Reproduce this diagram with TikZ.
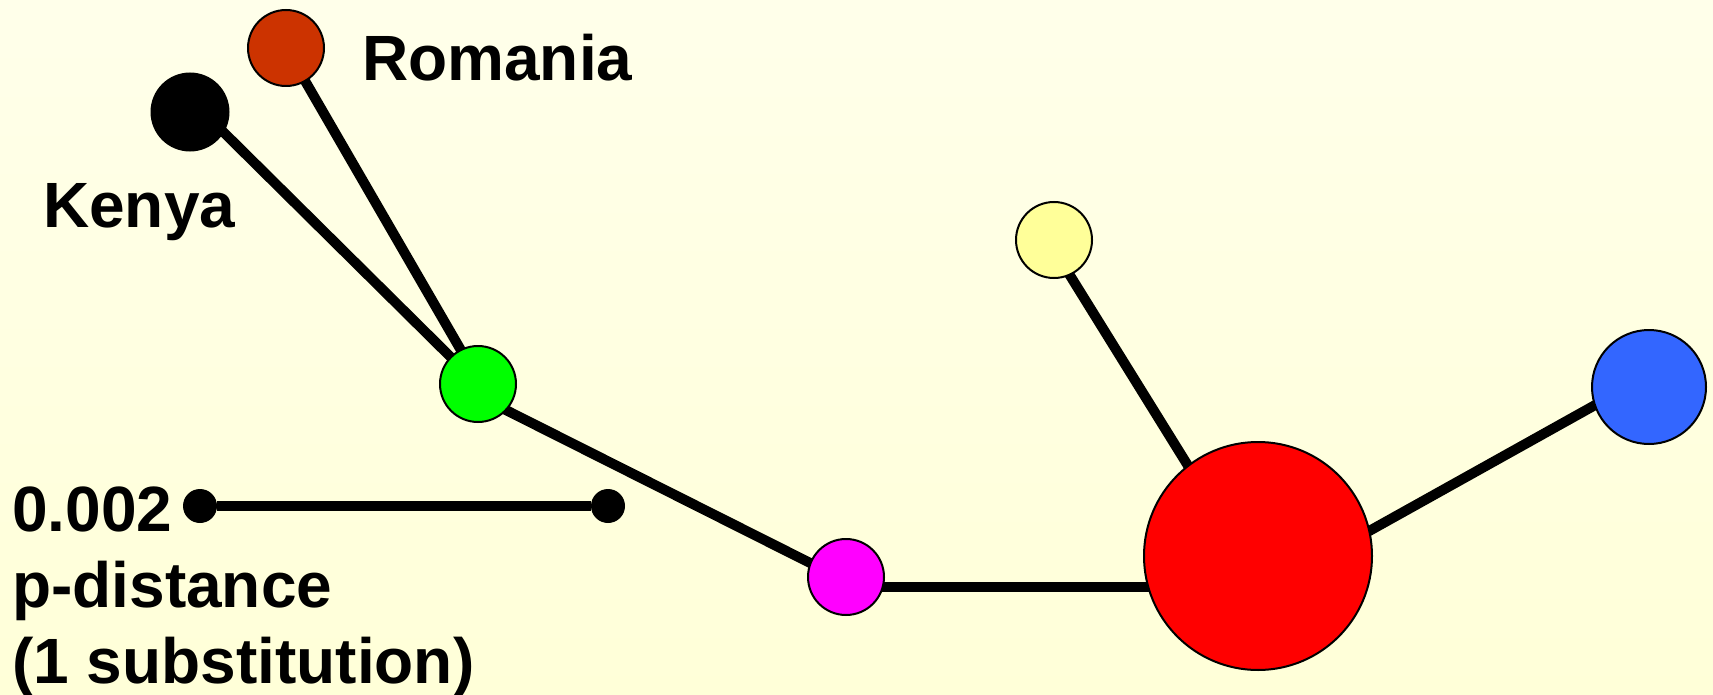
\documentclass[tikz,border=0pt]{standalone}
\usepackage{fontspec}
\setmainfont{Liberation Sans}
\usetikzlibrary{calc,backgrounds}
\pgfdeclarelayer{bg}
\pgfsetlayers{bg,background,main}
\definecolor{bgtop}{HTML}{FFFFEA}
\definecolor{bgmid}{HTML}{FFFFF6}
\definecolor{bgbot}{HTML}{FFFFD8}
\definecolor{romcol}{HTML}{CC3300}
\definecolor{grncol}{HTML}{00FF00}
\definecolor{yelcol}{HTML}{FFFF99}
\definecolor{blucol}{HTML}{3366FF}
\definecolor{redcol}{HTML}{FF0000}
\definecolor{magcol}{HTML}{FF00FF}
\begin{document}
\begin{tikzpicture}[x=1pt,y=-1pt,
  hap/.style={circle, draw=black, line width=2pt, inner sep=0pt, minimum size=#1},
  dotnode/.style={circle, fill=black, inner sep=0pt, minimum size=34pt},
  link/.style={line width=10pt, black},
  lbl/.style={anchor=base west, inner sep=0pt, text=black, font=\bfseries\fontsize{64}{76}\selectfont}]
\useasboundingbox (0,0) rectangle (1713,695);
\begin{pgfonlayer}{bg}
  \shade[top color=bgtop, middle color=bgmid, bottom color=bgbot] (0,0) rectangle (1713,695);
\end{pgfonlayer}
% haplotype nodes
\node[hap=76pt, fill=romcol] (rom) at (286,48) {};
\node[hap=77pt, fill=black] (ken) at (190,112) {};
\node[hap=76pt, fill=grncol] (grn) at (478,384) {};
\node[hap=76pt, fill=yelcol] (yel) at (1054,240) {};
\node[hap=114pt, fill=blucol] (blu) at (1649,387) {};
\node[hap=228pt, fill=redcol] (red) at (1258,556) {};
\node[hap=76pt, fill=magcol] (mag) at (846,577) {};
% scale bar
\node[dotnode] (s1) at (200,506) {};
\node[dotnode] (s2) at (608,506) {};
% labels
\node[lbl] (lrom) at (362,81) {Romania};
\node[lbl] (lken) at (43,227) {Kenya};
\node[lbl] (l1) at (12,531) {0.002};
\node[lbl] (l2) at (12,607) {p-distance};
\node[lbl] (l3) at (12,683) {(1 substitution)};
% connectors
\begin{pgfonlayer}{background}
  \draw[link] ($(ken.center)+(0,-13)$) -- ($(grn.center)+(6,6)$);
  \draw[link] (rom.center) -- ($(grn.center)+(6,6)$);
  \draw[link] ($(grn.center)+(0,12)$) -- ($(mag.center)+(0,4)$);
  \draw[link] ($(mag.center)+(0,10)$) -- ($(red.center)+(0,31)$);
  \draw[link] ($(yel.center)+(-6,0)$) -- ($(red.center)+(-14,0)$);
  \draw[link] ($(red.center)+(0,37)$) -- ($(blu.center)+(0,-12)$);
  \draw[link] (s1) -- (s2);
\end{pgfonlayer}
\end{tikzpicture}
\end{document}
